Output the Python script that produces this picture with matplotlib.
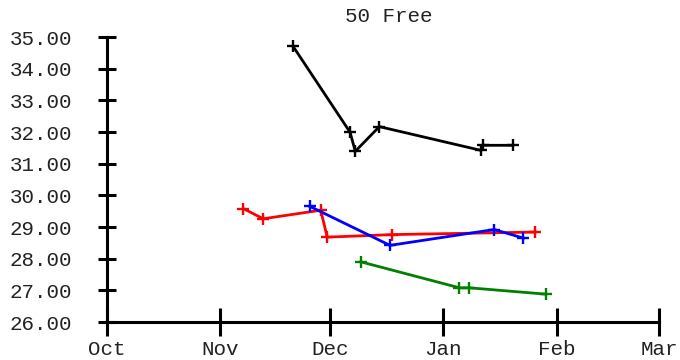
import matplotlib
matplotlib.use("Agg")
import matplotlib.pyplot as plt
import pandas as pd

title = "50 Free"

black_dates = ["2006-11-20 21:00", "2006-12-06 12:00", "2006-12-07 22:00", "2006-12-14 12:00",
               "2007-01-11 07:00", "2007-01-11 20:00", "2007-01-20 00:00"]
black_times = [34.71, 31.99, 31.39, 32.17, 31.42, 31.58, 31.58]

red_dates = ["2006-11-07 07:00", "2006-11-12 18:00", "2006-11-28 11:00", "2006-11-30 06:00",
             "2006-12-18 00:00", "2007-01-26 02:00"]
red_times = [29.58, 29.26, 29.53, 28.68, 28.76, 28.84]

blue_dates = ["2006-11-25 12:00", "2006-12-17 10:00", "2007-01-14 22:00", "2007-01-22 22:00"]
blue_times = [29.65, 28.42, 28.92, 28.65]

green_dates = ["2006-12-09 10:00", "2007-01-05 10:00", "2007-01-08 02:00", "2007-01-29 00:00"]
green_times = [27.90, 27.08, 27.08, 26.88]

month_ticks = ["2006-10-01", "2006-11-01", "2006-12-01", "2007-01-01",
               "2007-02-01", "2007-03-01"]
month_labels = ["Oct", "Nov", "Dec", "Jan", "Feb", "Mar"]
y_ticks = [26, 27, 28, 29, 30, 31, 32, 33, 34, 35]

plt.rcParams['font.family'] = ['Liberation Mono', 'DejaVu Sans Mono']

fig = plt.figure(figsize=(6.8, 3.6), dpi=100)
ax = fig.add_axes([107/680, 1 - 322/360, (659-107)/680, (322-37)/360])

series = [(black_dates, black_times, "black"),
          (red_dates, red_times, "red"),
          (blue_dates, blue_times, "blue"),
          (green_dates, green_times, "green")]
for d, t, c in series:
    ax.plot(pd.to_datetime(d, format="%Y-%m-%d %H:%M"), t, color=c, lw=2.0, marker="+",
            markersize=9, mew=1.7, clip_on=False)

ax.set_xlim(pd.to_datetime(month_ticks[0]), pd.to_datetime(month_ticks[-1]))
ax.set_ylim(26, 35)
ax.set_xticks(pd.to_datetime(month_ticks))
ax.set_xticklabels(month_labels)
ax.set_yticks(y_ticks)
ax.set_yticklabels(["%.2f" % v for v in y_ticks])

for s in ["top", "right"]:
    ax.spines[s].set_visible(False)
for s in ["left", "bottom"]:
    ax.spines[s].set_linewidth(2.2)

ax.tick_params(axis="y", direction="inout", length=12.5, width=2.2,
               pad=19, labelsize=15, labelcolor="#222222")
ax.tick_params(axis="x", direction="inout", length=20, width=2.2,
               pad=3, labelsize=15, labelcolor="#222222")

fig.text(389/680, 1 - 17/360, title, ha="center", va="center",
         fontsize=15, color="#222222")

fig.savefig("out.png")
